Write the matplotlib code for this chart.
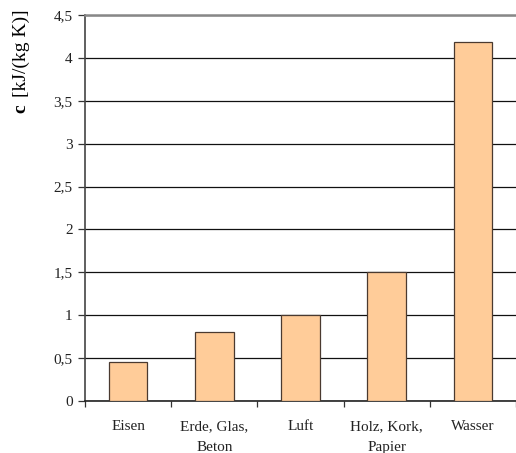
import numpy as np
import matplotlib.pyplot as plt

# Spezifische Wärmekapazität verschiedener Stoffe
stoffe = ["Eisen", "Erde, Glas,\nBeton", "Luft", "Holz, Kork,\nPapier", "Wasser"]
c_werte = [0.45, 0.8, 1.0, 1.5, 4.19]
y_ticks = [0, 0.5, 1, 1.5, 2, 2.5, 3, 3.5, 4, 4.5]
y_labels = ["0", "0,5", "1", "1,5", "2", "2,5", "3", "3,5", "4", "4,5"]

plt.rcParams['font.family'] = ['Liberation Serif', 'DejaVu Serif']

fig = plt.figure(figsize=(5.16, 4.53), dpi=100)
ax = fig.add_axes([85/516, 52/453, 431/516, 386/453])

x = np.arange(len(stoffe))
ax.bar(x, c_werte, width=0.45, color='#FFCC99', edgecolor='#4a3a30', linewidth=0.9, zorder=3)

ax.set_xlim(-0.5, len(stoffe) - 0.5)
ax.set_ylim(0, 4.5)
ax.set_yticks(y_ticks)
ax.set_yticklabels(y_labels, fontsize=11, color='#222222')
ax.yaxis.grid(True, color='#111111', linewidth=0.9, zorder=0)

# Kategorien mittig beschriften, Teilstriche zwischen den Balken
ax.set_xticks(x)
ax.set_xticklabels(stoffe, fontsize=11, color='#222222', linespacing=1.75)
ax.tick_params(axis='x', which='major', length=0, pad=14)
ax.set_xticks(np.arange(len(stoffe) + 1) - 0.5, minor=True)
ax.tick_params(axis='x', which='minor', length=4, width=0.9, direction='out', color='#333333')
ax.tick_params(axis='y', length=5, width=0.9, direction='out', color='#333333', pad=4)

ax.spines['right'].set_visible(False)
ax.spines['top'].set_color('#888888')
ax.spines['top'].set_linewidth(1.8)
ax.spines['left'].set_color('#444444')
ax.spines['left'].set_linewidth(1.2)
ax.spines['bottom'].set_color('#222222')
ax.spines['bottom'].set_linewidth(1.2)

# Achsenbeschriftung: "c" fett, Einheit normal
fig.text(21/516, 1 - 113/453, "c", rotation=90, ha='center', va='bottom',
         fontsize=14, fontweight='bold')
fig.text(21/516, 1 - 97/453, "[kJ/(kg K)]", rotation=90, ha='center', va='bottom',
         fontsize=14)

fig.savefig("out.png", dpi=100)
